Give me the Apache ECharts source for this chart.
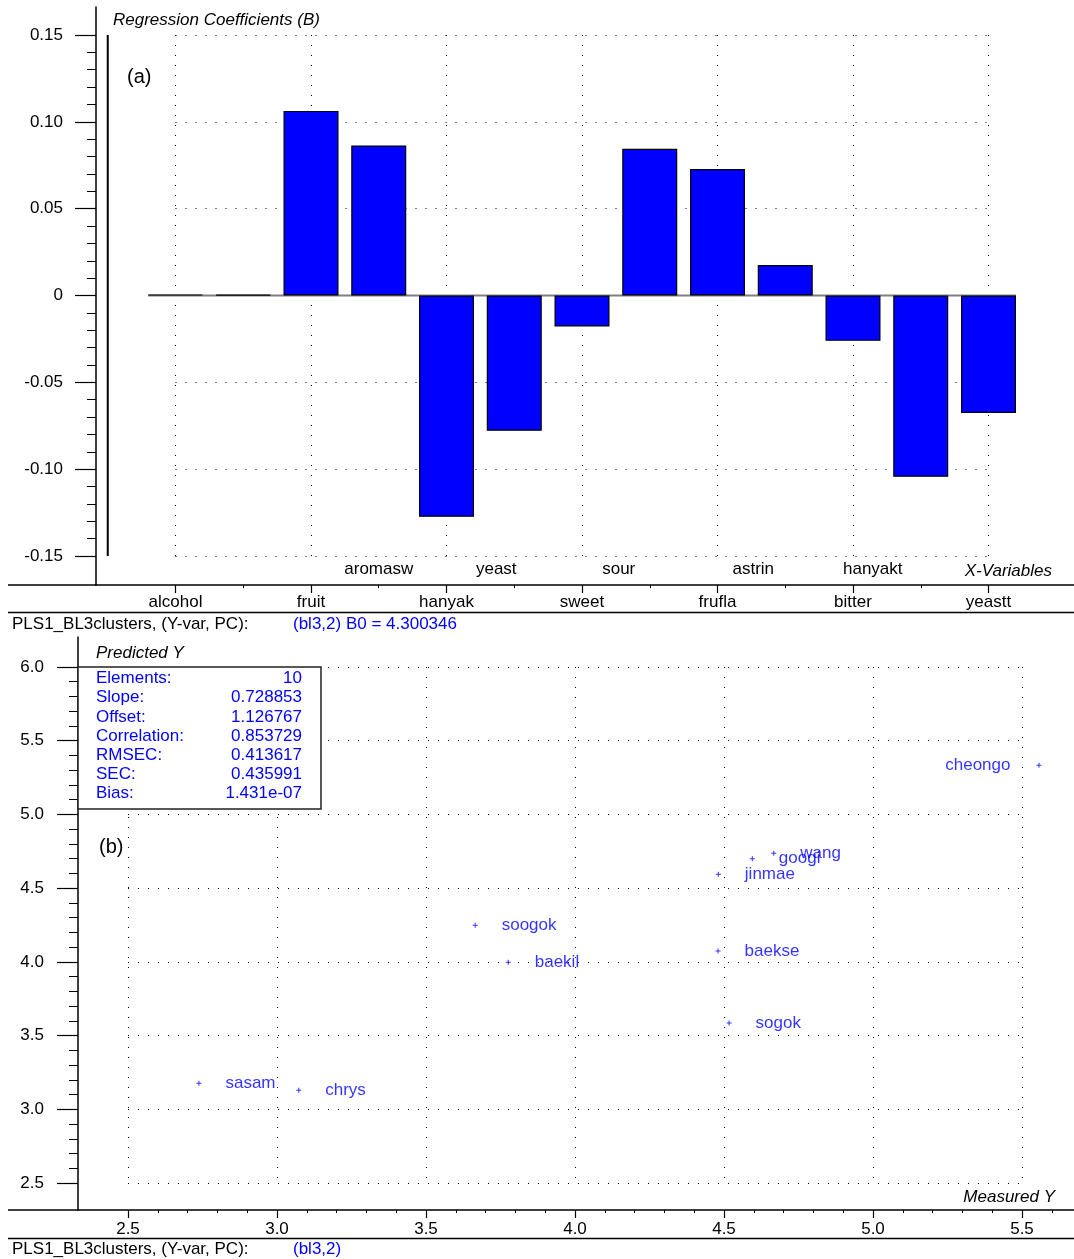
<!DOCTYPE html>
<html>
<head>
<meta charset="utf-8">
<script src="https://cdn.jsdelivr.net/npm/echarts@6/dist/echarts.min.js"></script>
<style>
  html, body { margin: 0; padding: 0; background: #fff; }
  #chart { width: 1074px; height: 1259px; }
</style>
</head>
<body>
<div id="chart"></div>
<script>
// ---- (a) regression coefficients ----
const variables = ['alcohol', '', 'fruit', 'aromasw', 'hanyak', 'yeast', 'sweet', 'sour', 'frufla', 'astrin', 'bitter', 'hanyakt', 'yeastt'];
const coefficients = [0.0006, 0.0004, 0.1063, 0.0864, -0.1274, -0.0779, -0.0178, 0.0845, 0.0728, 0.0175, -0.0261, -0.1044, -0.0676];
const coefTicks = [-0.15, -0.10, -0.05, 0, 0.05, 0.10, 0.15];
const b0Text = '(bl3,2) B0 = 4.300346';

// ---- (b) predicted vs measured ----
const samples = ['cheongo', 'wang', 'googi', 'jinmae', 'soogok', 'baekil', 'baekse', 'sogok', 'sasam', 'chrys'];
const measuredY = [5.557, 4.667, 4.595, 4.481, 3.665, 3.776, 4.480, 4.517, 2.738, 3.073];
const predictedY = [5.333, 4.736, 4.700, 4.594, 4.248, 3.997, 4.074, 3.585, 3.176, 3.129];
const measuredTicks = [2.5, 3.0, 3.5, 4.0, 4.5, 5.0, 5.5];
const predictedTicks = [2.5, 3.0, 3.5, 4.0, 4.5, 5.0, 5.5, 6.0];
const statNames = ['Elements:', 'Slope:', 'Offset:', 'Correlation:', 'RMSEC:', 'SEC:', 'Bias:'];
const statValues = ['10', '0.728853', '1.126767', '0.853729', '0.413617', '0.435991', '1.431e-07'];
const footerName = 'PLS1_BL3clusters, (Y-var, PC):';
const footerTag = '(bl3,2)';

// ---- styling ----
const FONT = 'Arial, "Liberation Sans", Helvetica, sans-serif';
const FS = 17;
const BLUE = '#0000ff';
const AXIS = { onZero: false, lineStyle: { color: '#000', width: 1.5 } };
const NO_AXIS = { show: false, onZero: false };
const DOTS = { show: true, lineStyle: { color: '#000', width: 1, type: [1, 9] } };
// horizontal nudge (px) for the upper row of variable names
const upperNudge = { 4: 0, 6: -18, 8: -31, 10: -32, 12: -48 };

const steps = (a, b, s) => { const r = []; for (let v = a; v <= b + s / 2; v += s) r.push(Math.round(v * 1000) / 1000); return r; };
const oddIdx = variables.map((_, i) => i + 1).filter(i => i % 2 === 1);
const evenIdx = variables.map((_, i) => i + 1).filter(i => i % 2 === 0);
const upperIdx = evenIdx.filter(i => variables[i - 1] !== '');

const upperRich = {};
upperIdx.forEach(i => {
  const d = upperNudge[i] || 0;
  upperRich['n' + i] = { fontSize: FS, fontFamily: FONT, color: '#000', padding: [0, Math.max(0, -2 * d), 0, Math.max(0, 2 * d)] };
});

const halfBar = 27.5 / 67.75; // bar half-width in category units
const barData = coefficients.map((v, i) => [i + 1, v]);
const scatterData = samples.map((n, i) => ({
  name: n,
  value: [measuredY[i], predictedY[i]],
  label: measuredY[i] > 5.4 ? { position: 'left', distance: 26 } : undefined
}));

const hidden = { axisLine: NO_AXIS, axisTick: { show: false }, axisLabel: { show: false } };

const option = {
  animation: false,
  backgroundColor: '#fff',
  textStyle: { fontFamily: FONT },
  grid: [
    { left: 96, right: 0, top: 7, bottom: 674 },            // (a) plot
    { left: 175.5, width: 813, top: 35, height: 521 },      // (a) dotted grid
    { left: 78, right: 0, top: 637, bottom: 49 },           // (b) plot
    { left: 128, width: 894, top: 667, height: 516 }        // (b) dotted grid
  ],
  xAxis: [
    { type: 'value', gridIndex: 0, position: 'bottom', min: -0.17343, max: 14.26199,
      axisLine: AXIS, splitLine: { show: false },
      axisTick: { customValues: oddIdx, length: 8, lineStyle: { color: '#000', width: 1.2 } },
      axisLabel: { customValues: oddIdx, margin: 9, fontSize: FS, color: '#000', fontFamily: FONT,
        formatter: v => variables[Math.round(v) - 1] } },
    { type: 'value', gridIndex: 0, position: 'bottom', min: -0.17343, max: 14.26199,
      axisLine: NO_AXIS, splitLine: { show: false },
      axisTick: { show: true, customValues: evenIdx, length: 3, lineStyle: { color: '#000', width: 1 } },
      axisLabel: { inside: true, customValues: upperIdx, margin: 7, fontSize: FS, color: '#000', fontFamily: FONT,
        formatter: v => { const i = Math.round(v); return '{n' + i + '|' + variables[i - 1] + '}'; }, rich: upperRich } },
    { type: 'value', gridIndex: 1, min: 0, max: 12, interval: 2, splitLine: DOTS, ...hidden },
    { type: 'value', gridIndex: 2, position: 'bottom', min: 2.33221, max: 5.67450,
      axisLine: AXIS, splitLine: { show: false },
      axisTick: { customValues: measuredTicks, length: 8, lineStyle: { color: '#000', width: 1.2 } },
      axisLabel: { customValues: measuredTicks, margin: 11, fontSize: FS, color: '#000', fontFamily: FONT,
        formatter: v => v.toFixed(1) } },
    { type: 'value', gridIndex: 2, position: 'bottom', min: 2.33221, max: 5.67450,
      axisLine: NO_AXIS, splitLine: { show: false }, axisLabel: { show: false },
      axisTick: { show: true, customValues: steps(2.5, 5.6, 0.1), length: 3, lineStyle: { color: '#000', width: 1 } } },
    { type: 'value', gridIndex: 3, min: 25, max: 55, interval: 5, splitLine: DOTS, ...hidden }
  ],
  yAxis: [
    { type: 'value', gridIndex: 0, position: 'left', min: -0.166699, max: 0.166123,
      axisLine: AXIS, splitLine: { show: false },
      axisTick: { customValues: coefTicks, length: 21, lineStyle: { color: '#000', width: 1.2 } },
      axisLabel: { customValues: coefTicks, margin: 33, fontSize: FS, color: '#000', fontFamily: FONT,
        formatter: v => (Math.abs(v) < 1e-9 ? '0' : v.toFixed(2)) } },
    { type: 'value', gridIndex: 0, position: 'left', min: -0.166699, max: 0.166123,
      axisLine: NO_AXIS, splitLine: { show: false }, axisLabel: { show: false },
      axisTick: { show: true, customValues: steps(-0.15, 0.15, 0.01), length: 9, lineStyle: { color: '#000', width: 1 } } },
    { type: 'value', gridIndex: 1, min: -15, max: 15, interval: 5, splitLine: DOTS, ...hidden },
    { type: 'value', gridIndex: 2, position: 'left', min: 2.31690, max: 6.20349,
      axisLine: AXIS, splitLine: { show: false },
      axisTick: { customValues: predictedTicks, length: 21, lineStyle: { color: '#000', width: 1.2 } },
      axisLabel: { customValues: predictedTicks, margin: 34, fontSize: FS, color: '#000', fontFamily: FONT,
        formatter: v => v.toFixed(1) } },
    { type: 'value', gridIndex: 2, position: 'left', min: 2.31690, max: 6.20349,
      axisLine: NO_AXIS, splitLine: { show: false }, axisLabel: { show: false },
      axisTick: { show: true, customValues: steps(2.5, 6.0, 0.1), length: 9, lineStyle: { color: '#000', width: 1 } } },
    { type: 'value', gridIndex: 3, min: 25, max: 60, interval: 5, splitLine: DOTS, ...hidden }
  ],
  series: [
    { // zero reference line under the bars
      type: 'line', xAxisIndex: 0, yAxisIndex: 0, z: 1, symbol: 'none', silent: true,
      data: [[1 - halfBar, 0], [coefficients.length + halfBar, 0]],
      lineStyle: { color: '#808080', width: 2 } },
    { // range bar at the origin column
      type: 'line', xAxisIndex: 0, yAxisIndex: 0, z: 3, symbol: 'none', silent: true,
      data: [[0, coefTicks[0]], [0, coefTicks[coefTicks.length - 1]]],
      lineStyle: { color: '#000', width: 2 } },
    { type: 'bar', xAxisIndex: 0, yAxisIndex: 0, z: 2, barWidth: 55,
      data: barData,
      itemStyle: { color: BLUE, borderColor: '#000', borderWidth: 1.2 } },
    { type: 'scatter', xAxisIndex: 3, yAxisIndex: 3, z: 5,
      symbol: 'path://M2,0h1v5h-1zM0,2h5v1h-5z', symbolSize: 5,
      itemStyle: { color: BLUE },
      label: { show: true, position: 'right', distance: 24, formatter: '{b}',
        color: BLUE, fontSize: FS, fontFamily: FONT },
      data: scatterData }
  ],
  graphic: [
    // axis line extensions and footer separators
    { type: 'line', z: 50, shape: { x1: 8, y1: 585, x2: 96, y2: 585 }, style: { stroke: '#000', lineWidth: 1.5 } },
    { type: 'line', z: 50, shape: { x1: 8, y1: 612.5, x2: 1074, y2: 612.5 }, style: { stroke: '#000', lineWidth: 1.5 } },
    { type: 'line', z: 50, shape: { x1: 8, y1: 1210, x2: 78, y2: 1210 }, style: { stroke: '#000', lineWidth: 1.5 } },
    { type: 'line', z: 50, shape: { x1: 8, y1: 1238.5, x2: 1074, y2: 1238.5 }, style: { stroke: '#000', lineWidth: 1.5 } },
    // panel (a) texts
    { type: 'text', z: 50, x: 113, y: 20, style: { text: 'Regression Coefficients (B)', fill: '#000', font: 'italic 17px ' + FONT, verticalAlign: 'middle' } },
    { type: 'text', z: 50, x: 127, y: 77, style: { text: '(a)', fill: '#000', font: '20px ' + FONT, verticalAlign: 'middle' } },
    { type: 'text', z: 50, x: 1052, y: 571, style: { text: 'X-Variables', fill: '#000', font: 'italic 17px ' + FONT, align: 'right', verticalAlign: 'middle' } },
    { type: 'text', z: 50, x: 12, y: 624, style: { text: footerName, fill: '#000', font: '17px ' + FONT, verticalAlign: 'middle' } },
    { type: 'text', z: 50, x: 293, y: 624, style: { text: b0Text, fill: BLUE, font: '17px ' + FONT, verticalAlign: 'middle' } },
    // panel (b) texts
    { type: 'text', z: 50, x: 96, y: 653, style: { text: 'Predicted Y', fill: '#000', font: 'italic 17px ' + FONT, verticalAlign: 'middle' } },
    { type: 'rect', z: 60, shape: { x: 78, y: 667, width: 243, height: 142 }, style: { fill: '#fff', stroke: '#222', lineWidth: 1.5 } },
    ...statNames.map((t, k) => ({ type: 'text', z: 61, x: 96, y: 678.5 + k * 19.2,
      style: { text: t, fill: BLUE, font: '17px ' + FONT, verticalAlign: 'middle' } })),
    ...statValues.map((t, k) => ({ type: 'text', z: 61, x: 302, y: 678.5 + k * 19.2,
      style: { text: t, fill: BLUE, font: '17px ' + FONT, align: 'right', verticalAlign: 'middle' } })),
    { type: 'text', z: 50, x: 99, y: 847, style: { text: '(b)', fill: '#000', font: '20px ' + FONT, verticalAlign: 'middle' } },
    { type: 'text', z: 50, x: 1055, y: 1197, style: { text: 'Measured Y', fill: '#000', font: 'italic 17px ' + FONT, align: 'right', verticalAlign: 'middle' } },
    { type: 'text', z: 50, x: 12, y: 1249, style: { text: footerName, fill: '#000', font: '17px ' + FONT, verticalAlign: 'middle' } },
    { type: 'text', z: 50, x: 293, y: 1249, style: { text: footerTag, fill: BLUE, font: '17px ' + FONT, verticalAlign: 'middle' } }
  ]
};

const chart = echarts.init(document.getElementById('chart'), null, { renderer: 'canvas' });
chart.setOption(option);
</script>
</body>
</html>
